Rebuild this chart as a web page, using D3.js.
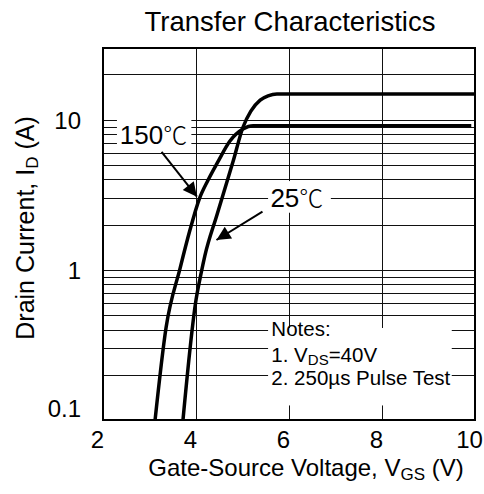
<!DOCTYPE html>
<html>
<head>
<meta charset="utf-8">
<script src="https://cdn.jsdelivr.net/npm/d3@7"></script>
<style>
body { margin: 0; background: #fff; }
text { font-family: "Liberation Sans", Arial, "Noto Sans CJK SC", sans-serif; fill: #000; }
.deg { font-family: "Noto Sans CJK SC", "Noto Sans CJK JP", sans-serif; font-weight: 300; }
</style>
</head>
<body>
<div id="chart"></div>
<script>
// Transfer characteristics
var vgs25 = [3.72, 4.00, 4.11, 4.19, 4.45, 4.80, 5.01, 5.18, 5.38, 5.55, 5.74, 10];
var id25  = [0.1, 0.63, 0.95, 1.24, 2.32, 5.3, 8.9, 11.4, 13.5, 14.4, 14.8, 14.8];
var vgs150 = [3.12, 3.355, 3.66, 3.87, 4.07, 4.26, 4.47, 4.73, 5.01, 5.23, 9.92];
var id150  = [0.1, 0.41, 1.03, 1.84, 2.96, 3.96, 5.23, 7.21, 8.66, 9.1, 9.1];

var xTicks = [2, 4, 6, 8, 10];
var yTicks = [0.1, 1, 10];
var yLabels = ["0.1", "1", "10"];

var svgWidth = 484;
var svgHeight = 494;
var margin = { top: 48, right: 9, bottom: 74, left: 103 };
var width = svgWidth - margin.left - margin.right;
var height = svgHeight - margin.top - margin.bottom;

var svg = d3.select("#chart").append("svg")
  .attr("width", svgWidth)
  .attr("height", svgHeight);

var chart = svg.append("g")
  .attr("transform", `translate(${margin.left}, ${margin.top})`);

var x = d3.scaleLinear().domain([2, 10]).range([0, width]);
var y = d3.scaleLog().domain([0.1, 30]).range([height, 0]);

// grid: every minor decade step plus vertical lines
var minor = [];
[0.1, 1, 10].forEach(function(d) {
  for (var k = 1; k <= 9; k++) {
    var v = d * k;
    if (v > 0.1 && v < 30) minor.push(v);
  }
});

chart.append("g").selectAll("line.h")
  .data(minor)
  .enter().append("line")
  .attr("x1", 0).attr("x2", width)
  .attr("y1", d => Math.round(y(d)) + 0.5)
  .attr("y2", d => Math.round(y(d)) + 0.5)
  .attr("stroke", "#111")
  .attr("stroke-width", 1);

chart.append("g").selectAll("line.v")
  .data(xTicks.slice(1, -1))
  .enter().append("line")
  .attr("x1", d => Math.round(x(d)) + 0.5)
  .attr("x2", d => Math.round(x(d)) + 0.5)
  .attr("y1", 0).attr("y2", height)
  .attr("stroke", "#111")
  .attr("stroke-width", 1);

// axes (labels only)
var xAxis = d3.axisBottom(x).tickValues(xTicks).tickSize(0).tickPadding(0).tickFormat(d3.format("d"));
var gx = chart.append("g").attr("transform", `translate(0, ${height})`).call(xAxis);
gx.select(".domain").remove();
gx.selectAll("text")
  .attr("font-family", null)
  .style("font-size", "24px")
  .attr("dy", null)
  .attr("x", -6)
  .attr("y", 28);

var yAxis = d3.axisLeft(y).tickValues(yTicks).tickSize(0).tickPadding(22)
  .tickFormat((d, i) => yLabels[i]);
var gy = chart.append("g").call(yAxis);
gy.select(".domain").remove();
gy.selectAll("text")
  .attr("font-family", null)
  .style("font-size", "24px")
  .attr("dy", (d, i) => i === 0 ? "-0.15em" : "0.35em");

// label boxes that interrupt the grid
function whiteBox(x0, y0, x1, y1) {
  chart.append("rect")
    .attr("x", x(x0)).attr("y", y(y1))
    .attr("width", x(x1) - x(x0)).attr("height", y(y0) - y(y1))
    .attr("fill", "#fff");
}
whiteBox(2.3, 6.0, 3.9, 10.4);
whiteBox(5.55, 2.4, 6.9, 3.9);
whiteBox(5.55, 0.125, 9.5, 0.41);

// curves
var line = d3.line()
  .x(d => x(d[0]))
  .y(d => y(d[1]))
  .curve(d3.curveMonotoneX);

chart.append("path")
  .datum(d3.zip(vgs25, id25))
  .attr("d", line)
  .attr("fill", "none")
  .attr("stroke", "#000")
  .attr("stroke-width", 3.5);

chart.append("path")
  .datum(d3.zip(vgs150, id150))
  .attr("d", line)
  .attr("fill", "none")
  .attr("stroke", "#000")
  .attr("stroke-width", 3.5);

// arrows
svg.append("defs").append("marker")
  .attr("id", "head")
  .attr("viewBox", "0 0 10 10")
  .attr("refX", 10).attr("refY", 5)
  .attr("markerWidth", 8.5).attr("markerHeight", 7)
  .attr("markerUnits", "strokeWidth")
  .attr("orient", "auto")
  .append("path")
  .attr("d", "M0,0 L10,5 L0,10 z")
  .attr("fill", "#000");

function arrow(a, b) {
  chart.append("line")
    .attr("x1", x(a[0])).attr("y1", y(a[1]))
    .attr("x2", x(b[0])).attr("y2", y(b[1]))
    .attr("stroke", "#000")
    .attr("stroke-width", 2)
    .attr("marker-end", "url(#head)");
}
arrow([3.26, 6.1], [4.02, 3.07]);
arrow([5.43, 2.44], [4.44, 1.58]);

// curve labels
var t150 = chart.append("text")
  .attr("x", x(2.36)).attr("y", y(6.9))
  .style("font-size", "26px");
t150.append("tspan").text("150");
t150.append("tspan").attr("class", "deg").style("font-size", "24px").text("\u2103");

var t25 = chart.append("text")
  .attr("x", x(5.6)).attr("y", y(2.62))
  .style("font-size", "26px");
t25.append("tspan").text("25");
t25.append("tspan").attr("class", "deg").style("font-size", "24px").text("\u2103");

// notes
var notes = chart.append("g").style("font-size", "20.5px");
notes.append("text").attr("x", x(5.62)).attr("y", y(0.36)).text("Notes:");
var n1 = notes.append("text").attr("x", x(5.62)).attr("y", y(0.245));
n1.append("tspan").text("1. V");
n1.append("tspan").text("DS").style("font-size", "15px").attr("dy", 3);
n1.append("tspan").text("=40V").attr("dy", -3);
notes.append("text").attr("x", x(5.62)).attr("y", y(0.17)).text("2. 250\u00b5s Pulse Test");

// frame
chart.append("rect")
  .attr("x", 0).attr("y", 0)
  .attr("width", width).attr("height", height)
  .attr("fill", "none")
  .attr("stroke", "#000")
  .attr("stroke-width", 2);

// titles
svg.append("text")
  .attr("x", 290).attr("y", 31)
  .attr("text-anchor", "middle")
  .style("font-size", "27.5px")
  .text("Transfer Characteristics");

var xl = svg.append("text")
  .attr("x", 306).attr("y", 476)
  .attr("text-anchor", "middle")
  .style("font-size", "24px");
xl.append("tspan").text("Gate-Source Voltage, V");
xl.append("tspan").text("GS").style("font-size", "17px").attr("dy", 4);
xl.append("tspan").text(" (V)").attr("dy", -4);

var yl = svg.append("text")
  .attr("transform", "translate(34, 228) rotate(-90)")
  .attr("text-anchor", "middle")
  .style("font-size", "25px");
yl.append("tspan").text("Drain Current, I");
yl.append("tspan").text("D").style("font-size", "17px").attr("dy", 4);
yl.append("tspan").text(" (A)").attr("dy", -4);
</script>
</body>
</html>
